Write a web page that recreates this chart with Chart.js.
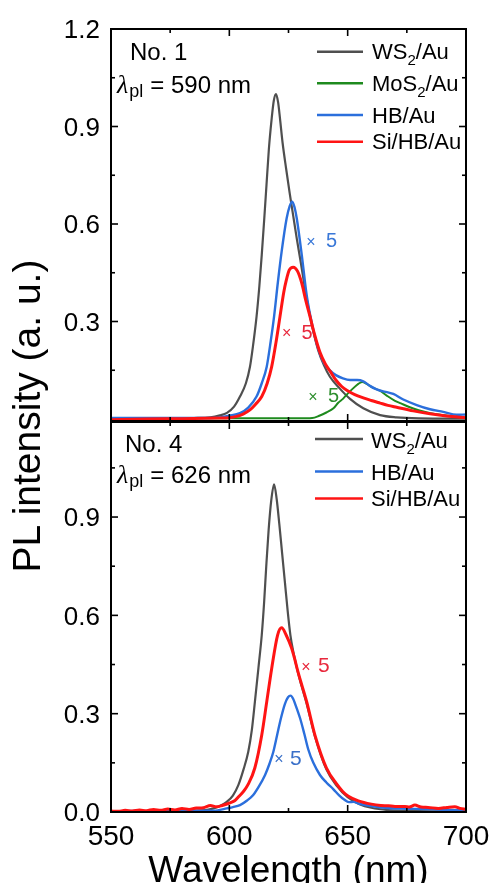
<!DOCTYPE html>
<html>
<head>
<meta charset="utf-8">
<script src="https://cdn.jsdelivr.net/npm/chart.js@4.4.1/dist/chart.umd.min.js"></script>
<style>
  html, body { margin: 0; padding: 0; background: #fff; }
  body { width: 491px; height: 883px; position: relative; overflow: hidden;
         font-family: "Liberation Sans", Arial, sans-serif; color: #000; }
  canvas { position: absolute; left: 0; }
  #topPanel { top: 0; }
  #bottomPanel { top: 421px; }
  #yTitle { position: absolute; left: -172.6px; top: 391px; width: 400px; height: 50px;
            line-height: 50px; font-size: 39px; text-align: center; white-space: nowrap;
            transform: rotate(-90deg); }
  #xTitle { position: absolute; left: 88.5px; top: 848px; width: 400px; height: 44px;
            line-height: 44px; font-size: 37px; text-align: center; white-space: nowrap; }
</style>
</head>
<body>
<canvas id="topPanel" width="491" height="422"></canvas>
<canvas id="bottomPanel" width="491" height="462"></canvas>
<div id="yTitle">PL intensity (a. u.)</div>
<div id="xTitle">Wavelength (nm)</div>
<script>
// ---------- axis ticks ----------
const wavelengthMajor = [550, 600, 650, 700];
const wavelengthMinor = [575, 625, 675];
const topMajor = [0.3, 0.6, 0.9, 1.2];
const topMinor = [0.15, 0.45, 0.75, 1.05];
const bottomMajor = [0.0, 0.3, 0.6, 0.9];
const bottomMinor = [0.15, 0.45, 0.75, 1.05];

// ---------- panel No. 1 (excitation 590 nm) ----------
const topWs2Nm = [550, 570, 585, 592, 596, 599, 602, 604.5, 607, 608.7, 610, 611.5, 612.7, 613.7, 614.7, 615.7, 616.7, 617.9, 618.8, 619.7, 620.6, 621.4, 622.5, 624, 625.5, 627, 628.5, 630, 632.7, 635, 637.6, 640, 642.5, 646.5, 651, 656.6, 663.7, 670.7, 680, 700];
const topWs2Pl = [0.002, 0.002, 0.003, 0.005, 0.011, 0.019, 0.038, 0.069, 0.11, 0.16, 0.225, 0.315, 0.41, 0.505, 0.61, 0.72, 0.83, 0.925, 0.98, 1.0, 0.975, 0.925, 0.85, 0.77, 0.695, 0.625, 0.555, 0.49, 0.37, 0.285, 0.21, 0.165, 0.13, 0.095, 0.062, 0.033, 0.012, 0.005, 0.002, 0.001];

const topMos2Nm = [550, 600, 620, 630, 635, 638, 641, 644, 646, 648, 650, 652.4, 654.5, 656.2, 658, 660.8, 663.6, 666.5, 670, 672.5, 676, 680, 685, 690, 695, 700];
const topMos2Pl = [0.002, 0.002, 0.002, 0.002, 0.003, 0.01, 0.02, 0.033, 0.05, 0.062, 0.078, 0.095, 0.108, 0.114, 0.108, 0.096, 0.087, 0.072, 0.056, 0.048, 0.037, 0.027, 0.018, 0.012, 0.007, 0.004];

const topHbNm = [550, 570, 585, 592, 596, 600, 604.5, 608, 611.5, 613.7, 615.8, 617.5, 618.9, 620.5, 622.1, 624.2, 625.5, 626.6, 627.6, 628.5, 630.6, 632.7, 635, 637.6, 640, 642.5, 645, 648, 651, 654, 656.6, 659.4, 662, 665, 667, 669.3, 673.5, 679.2, 684.8, 690.4, 696, 700];
const topHbPl = [0.003, 0.003, 0.003, 0.003, 0.005, 0.01, 0.018, 0.035, 0.069, 0.11, 0.161, 0.24, 0.315, 0.42, 0.515, 0.617, 0.655, 0.669, 0.65, 0.617, 0.505, 0.38, 0.29, 0.215, 0.172, 0.15, 0.135, 0.125, 0.12, 0.12, 0.116, 0.102, 0.092, 0.085, 0.082, 0.077, 0.06, 0.043, 0.03, 0.022, 0.013, 0.014];

const topSiHbNm = [550, 565, 580, 590, 596, 600, 603.1, 606, 608.7, 611, 613.7, 616, 617.9, 619.7, 621.4, 623, 624, 625.3, 627, 628.8, 630.6, 632.3, 634.1, 636, 638.3, 640.5, 642.5, 645, 647.5, 650, 653, 656.6, 660, 663.7, 667, 670.7, 677.7, 684.8, 691.8, 700];
const topSiHbPl = [-0.002, 0, 0.001, 0.002, 0.003, 0.004, 0.008, 0.016, 0.028, 0.045, 0.069, 0.11, 0.161, 0.235, 0.315, 0.39, 0.425, 0.458, 0.467, 0.455, 0.418, 0.365, 0.315, 0.26, 0.205, 0.17, 0.148, 0.12, 0.1, 0.087, 0.075, 0.065, 0.057, 0.049, 0.042, 0.036, 0.025, 0.016, 0.009, 0.004];

// ---------- panel No. 4 (excitation 626 nm) ----------
const botWs2Nm = [550, 570, 585, 590, 593.3, 596, 598.9, 601.5, 603.8, 606, 608, 609.5, 610.8, 612.3, 613.7, 614.7, 615.6, 616.6, 617.7, 618.9, 620, 621.1, 622.3, 623.5, 624.7, 625.8, 627, 628.5, 630.5, 632.7, 636.2, 641, 645.4, 650, 655, 660, 667, 680, 700];
const botWs2Pl = [0.003, 0.003, 0.004, 0.006, 0.011, 0.018, 0.031, 0.05, 0.082, 0.13, 0.184, 0.25, 0.336, 0.44, 0.54, 0.64, 0.75, 0.86, 0.95, 1.0, 0.955, 0.88, 0.79, 0.7, 0.61, 0.54, 0.49, 0.44, 0.385, 0.33, 0.23, 0.13, 0.08, 0.045, 0.024, 0.013, 0.006, 0.003, 0.002];

const botHbNm = [550, 560, 570, 580, 590, 595, 598.9, 601.5, 604.5, 607.5, 610.1, 612.5, 615.1, 617, 618.6, 620.2, 621.8, 623.5, 624.8, 625.9, 627, 627.8, 629.9, 631.7, 633.4, 635.5, 638.3, 641, 643.9, 646.5, 648.5, 650.5, 652.5, 654.5, 660, 667, 675, 681, 690, 700];
const botHbPl = [0.002, 0.003, 0.002, 0.004, 0.004, 0.005, 0.011, 0.015, 0.021, 0.035, 0.052, 0.078, 0.113, 0.148, 0.184, 0.235, 0.286, 0.33, 0.35, 0.355, 0.345, 0.33, 0.286, 0.238, 0.19, 0.15, 0.113, 0.09, 0.07, 0.05, 0.038, 0.03, 0.031, 0.026, 0.018, 0.012, 0.01, 0.009, 0.007, 0.005];

const botSiHbNm = [550, 553, 556, 559, 562, 565, 568, 571, 574, 577, 580, 583, 586, 589, 592, 594.5, 597, 600.3, 602.4, 604, 605.9, 608, 610.8, 613.7, 615.8, 617.9, 620.4, 622.1, 624, 626.3, 627.5, 629.1, 632.7, 636.2, 641, 645.4, 648, 650.3, 654.5, 660, 664, 667.2, 670, 674.2, 676, 678.4, 681, 684, 688.3, 692, 695.3, 697.5, 700];
const botSiHbPl = [0.003, 0.002, 0.005, 0.003, 0.006, 0.004, 0.008, 0.005, 0.009, 0.006, 0.011, 0.008, 0.012, 0.013, 0.02, 0.016, 0.02, 0.028, 0.035, 0.047, 0.062, 0.085, 0.135, 0.235, 0.336, 0.438, 0.54, 0.562, 0.54, 0.5, 0.47, 0.425, 0.336, 0.234, 0.135, 0.085, 0.062, 0.048, 0.034, 0.024, 0.02, 0.019, 0.017, 0.017, 0.015, 0.021, 0.015, 0.014, 0.011, 0.014, 0.016, 0.011, 0.008];

// ---------- styling ----------
const FONT = '"Liberation Sans", Arial, sans-serif';
const GRAY = '#4f4f4f', GREEN = '#1e8a1e', BLUE = '#2b6fdc', RED = '#ff1414';

const pairs = (xs, ys) => xs.map((x, i) => ({ x, y: ys[i] }));

function series(label, xs, ys, color, width, order) {
  return {
    label, data: pairs(xs, ys), borderColor: color, backgroundColor: color,
    borderWidth: width, pointRadius: 0, cubicInterpolationMode: 'monotone',
    borderJoinStyle: 'round', borderCapStyle: 'round', fill: false, order
  };
}

// draws a run of text pieces (for subscripts / italics) starting at x
function richText(ctx, parts, x, y, color) {
  ctx.fillStyle = color;
  ctx.textAlign = 'left';
  ctx.textBaseline = 'alphabetic';
  for (const p of parts) {
    ctx.font = (p.style || '') + ' ' + p.size + 'px ' + (p.family || FONT);
    ctx.fillText(p.t, x, y + (p.dy || 0));
    x += ctx.measureText(p.t).width + (p.gap || 0);
  }
}

const sub2 = (main) => [{ t: main, size: 22 }, { t: '2', size: 15, dy: 6 }, { t: '/Au', size: 22 }];

function panelDecor(cfg) {
  return {
    id: 'panelDecor',
    afterDatasetsDraw(chart) {
      const { ctx, chartArea: a, scales: { x, y } } = chart;
      ctx.save();
      // frame
      ctx.strokeStyle = '#000';
      ctx.lineWidth = 2;
      ctx.strokeRect(a.left, a.top, a.right - a.left, a.bottom - a.top);
      // inward ticks on all four sides
      ctx.lineWidth = 1.6;
      const seg = (x1, y1, x2, y2) => { ctx.beginPath(); ctx.moveTo(x1, y1); ctx.lineTo(x2, y2); ctx.stroke(); };
      wavelengthMajor.concat(wavelengthMinor).forEach(v => {
        const len = wavelengthMajor.includes(v) ? 7 : 4;
        const px = x.getPixelForValue(v);
        seg(px, a.top, px, a.top + len);
        seg(px, a.bottom, px, a.bottom - len);
      });
      cfg.yMajor.concat(cfg.yMinor).forEach(v => {
        const len = cfg.yMajor.includes(v) ? 7 : 4;
        const py = y.getPixelForValue(v);
        seg(a.left, py, a.left + len, py);
        seg(a.right, py, a.right - len, py);
      });
      // y tick labels
      ctx.fillStyle = '#000';
      ctx.font = '26px ' + FONT;
      ctx.textAlign = 'right';
      ctx.textBaseline = 'alphabetic';
      cfg.yMajor.forEach(v => {
        ctx.fillText(v.toFixed(1), a.left - 11, y.getPixelForValue(v) + 9.4);
      });
      // x tick labels
      if (cfg.xLabels) {
        ctx.font = '28px ' + FONT;
        ctx.textAlign = 'center';
        wavelengthMajor.forEach(v => {
          ctx.fillText(String(v), x.getPixelForValue(v), a.bottom + cfg.xLabelDrop);
        });
      }
      // sample name and excitation wavelength
      richText(ctx, [{ t: cfg.name, size: 24 }], cfg.namePos[0], cfg.namePos[1], '#000');
      richText(ctx, [
        { t: 'λ', size: 26, style: 'italic', family: '"Liberation Serif", serif', gap: 1 },
        { t: 'pl', size: 18, dy: 4, gap: 7 },
        { t: '= ' + cfg.excitation + ' nm', size: 24 }
      ], cfg.lambdaPos[0], cfg.lambdaPos[1], '#000');
      // legend
      cfg.legend.forEach(item => {
        ctx.strokeStyle = item.color;
        ctx.lineWidth = 2.5;
        seg(cfg.legendX[0], item.line, cfg.legendX[1], item.line);
        richText(ctx, item.parts, cfg.legendX[2], item.base, '#000');
      });
      // scaling notes
      cfg.notes.forEach(n => {
        const px = x.getPixelForValue(n.at[0]);
        const py = y.getPixelForValue(n.at[1]);
        ctx.fillStyle = n.color;
        ctx.font = '16px ' + FONT;
        ctx.textAlign = 'center';
        ctx.fillText('×', px, py);
        ctx.textAlign = 'left';
        ctx.font = n.size + 'px ' + FONT;
        ctx.fillText('5', px + n.gap, py + 0.5);
      });
      ctx.restore();
    }
  };
}

function makePanel(canvasId, datasets, yMin, yMax, padding, cfg) {
  return new Chart(document.getElementById(canvasId), {
    type: 'line',
    data: { datasets },
    options: {
      responsive: false,
      animation: false,
      devicePixelRatio: 1,
      layout: { padding },
      plugins: { legend: { display: false }, tooltip: { enabled: false } },
      scales: {
        x: { type: 'linear', min: 550, max: 700, display: false },
        y: { type: 'linear', min: yMin, max: yMax, display: false }
      }
    },
    plugins: [panelDecor(cfg)]
  });
}

makePanel('topPanel', [
  series('Si/HB/Au', topSiHbNm, topSiHbPl, RED, 3, 0),
  series('HB/Au', topHbNm, topHbPl, BLUE, 2.4, 1),
  series('MoS2/Au', topMos2Nm, topMos2Pl, GREEN, 2, 2),
  series('WS2/Au', topWs2Nm, topWs2Pl, GRAY, 2.2, 3)
], -0.00615, 1.2, { left: 111, right: 25, top: 29, bottom: 1 }, {
  yMajor: topMajor, yMinor: topMinor, xLabels: false,
  name: 'No. 1', namePos: [130, 60], excitation: '590', lambdaPos: [117, 93],
  legendX: [317, 363, 372],
  legend: [
    { color: GRAY, line: 51.7, base: 59.3, parts: sub2('WS') },
    { color: GREEN, line: 83.3, base: 91, parts: sub2('MoS') },
    { color: BLUE, line: 115, base: 123, parts: [{ t: 'HB/Au', size: 22 }] },
    { color: RED, line: 141.7, base: 149.3, parts: [{ t: 'Si/HB/Au', size: 22 }] }
  ],
  notes: [
    { at: [634.5, 0.53], color: '#3a78d8', size: 20, gap: 15 },
    { at: [624.2, 0.249], color: '#e8283c', size: 20, gap: 15 },
    { at: [635.3, 0.053], color: '#2f8f2f', size: 20, gap: 15 }
  ]
});

makePanel('bottomPanel', [
  series('Si/HB/Au', botSiHbNm, botSiHbPl, RED, 3, 0),
  series('HB/Au', botHbNm, botHbPl, BLUE, 2.4, 1),
  series('WS2/Au', botWs2Nm, botWs2Pl, GRAY, 2.2, 2)
], 0, 1.19, { left: 111, right: 25, top: 1, bottom: 71 }, {
  yMajor: bottomMajor, yMinor: bottomMinor, xLabels: true, xLabelDrop: 33,
  name: 'No. 4', namePos: [125, 31], excitation: '626', lambdaPos: [117, 62],
  legendX: [315, 363, 371],
  legend: [
    { color: GRAY, line: 18, base: 26.5, parts: sub2('WS') },
    { color: BLUE, line: 50.5, base: 58.5, parts: [{ t: 'HB/Au', size: 22 }] },
    { color: RED, line: 77.5, base: 85, parts: [{ t: 'Si/HB/Au', size: 22 }] }
  ],
  notes: [
    { at: [632.4, 0.428], color: '#e8283c', size: 21, gap: 12 },
    { at: [621.0, 0.145], color: '#3a70c8', size: 21, gap: 11 }
  ]
});
</script>
</body>
</html>
